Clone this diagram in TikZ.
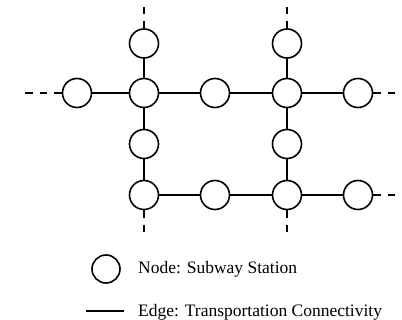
\documentclass[tikz,border=0pt]{standalone}
\usepackage{fontspec}
\setmainfont{Liberation Serif}
\begin{document}
\begin{tikzpicture}[x=1pt,y=-1pt,
  station/.style={circle,draw,line width=1.6pt,minimum size=29pt,inner sep=0pt,fill=white},
  edge/.style={line width=1.5pt},
  extend/.style={line width=1.5pt,dash pattern=on 7.5pt off 7pt},
  legendtext/.style={anchor=base west,inner sep=0pt,font=\fontsize{17.5}{20}\selectfont}]
\useasboundingbox (0,0) rectangle (402,320);
% nodes
\node[station] (t1) at (144,43.5) {};
\node[station] (t2) at (287,43.5) {};
\node[station] (b1) at (77,93) {};
\node[station] (b2) at (144,93) {};
\node[station] (b3) at (215,93) {};
\node[station] (b4) at (287,93) {};
\node[station] (b5) at (358,93) {};
\node[station] (c1) at (144,144) {};
\node[station] (c2) at (287,144) {};
\node[station] (d1) at (144,195) {};
\node[station] (d2) at (215,195) {};
\node[station] (d3) at (287,195) {};
\node[station] (d4) at (358,195) {};
% free ends
\coordinate (e1) at (144,7);
\coordinate (e2) at (287,7);
\coordinate (e3) at (24,93);
\coordinate (e4) at (397,93);
\coordinate (e5) at (397,195);
\coordinate (e6) at (144,232);
\coordinate (e7) at (287,232);
% edges
\draw[edge] (t1) -- (b2);
\draw[edge] (b1) -- (b2);
\draw[edge] (b2) -- (b3);
\draw[edge] (b3) -- (b4);
\draw[edge] (b4) -- (b5);
\draw[edge] (b2) -- (c1);
\draw[edge] (c1) -- (d1);
\draw[edge] (d1) -- (d2);
\draw[edge] (d2) -- (d3);
\draw[edge] (d3) -- (d4);
\draw[edge] (t2) -- (b4);
\draw[edge] (b4) -- (c2);
\draw[edge] (c2) -- (d3);
% dashed extensions
\draw[extend] (t1) -- (e1);
\draw[extend] (t2) -- (e2);
\draw[extend] (b1) -- (e3);
\draw[extend] (b5) -- (e4);
\draw[extend] (d4) -- (e5);
\draw[extend] (d1) -- (e6);
\draw[extend] (d3) -- (e7);
% legend
\node[station,minimum size=28pt] (lnode) at (106,269) {};
\node[legendtext] (ltext1) at (138,274) {Node: Subway Station};
\coordinate (la) at (86,311);
\coordinate (lb) at (124,311);
\draw[edge] (la) -- (lb);
\node[legendtext] (ltext2) at (138,317) {Edge: Transportation Connectivity};
\end{tikzpicture}
\end{document}
